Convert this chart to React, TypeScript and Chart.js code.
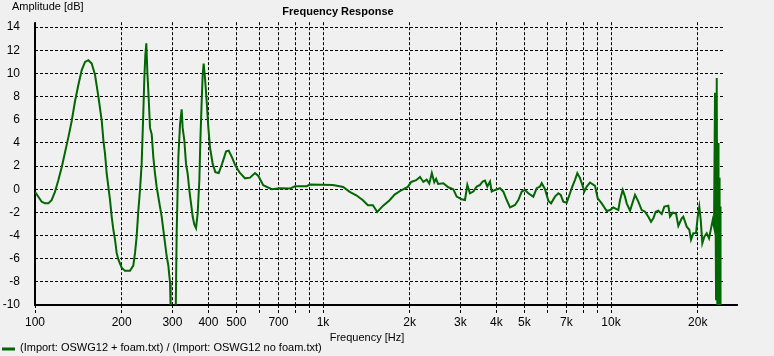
import React, { useEffect, useRef } from 'react';
import { Chart, registerables } from 'chart.js';

Chart.register(...registerables);

const chartTitle = 'Frequency Response';
const xAxisTitle = 'Frequency [Hz]';
const yAxisTitle = 'Amplitude [dB]';
const seriesLabel = '(Import: OSWG12 + foam.txt) / (Import: OSWG12 no foam.txt)';

const freqHz = [
  100, 102.7, 105.5, 108.3, 111.2, 114.2, 117.3, 120.5, 123.8, 127.1,
  130.5, 134.1, 137.7, 141.4, 145.3, 149.2, 153.2, 157.4, 161.6, 166.0,
  170.5, 172.8, 175.1, 177.4, 179.8, 182.2, 184.6, 187.1, 189.6, 192.1,
  194.7, 199.9, 205.3, 213.7, 219.4, 222.5, 225.4, 228.5, 231.5, 234.6,
  237.8, 239.7, 241.6, 243.5, 245.5, 248.1, 250.8, 254.2, 257.6, 261.0,
  264.5, 268.0, 271.6, 275.3, 279.0, 282.7, 286.5, 290.4, 294.3, 295.9,
  300.6, 307.9, 310.4, 314.6, 318.8, 323.0, 325.6, 330.0, 334.5, 338.9,
  343.5, 348.1, 352.7, 357.5, 362.3, 367.1, 372.1, 375.1, 379.1, 382.1,
  385.1, 389.3, 394.5, 399.9, 405.2, 414.0, 422.9, 434.4, 446.2, 460.7,
  470.6, 483.1, 496.2, 512.3, 536.1, 557.9, 580.7, 596.4, 620, 664,
  710, 768, 799, 877, 900, 1083, 1175, 1238, 1305, 1376,
  1432, 1490, 1543, 1614, 1703, 1773, 1869, 1970, 2024, 2106,
  2172, 2230, 2291, 2339, 2387, 2434, 2470, 2509, 2617, 2723,
  2834, 2912, 3030, 3112, 3170, 3238, 3325, 3417, 3509, 3585,
  3651, 3719, 3801, 3853, 3956, 4118, 4227, 4344, 4461, 4642,
  4766, 4897, 5028, 5162, 5373, 5521, 5668, 5746, 5900, 6058,
  6190, 6391, 6561, 6688, 6829, 7017, 7204, 7338, 7499, 7638,
  7805, 7950, 8078, 8234, 8455, 8799, 8990, 9283, 9663, 9920,
  10186, 10601, 10746, 10980, 11184, 11336, 11641, 11858, 12115, 12440,
  12783, 13125, 13475, 13770, 14026, 14297, 14597, 14997, 15315, 15812,
  16029, 16376, 16816, 17128, 17600, 17824, 18315, 18702, 18958, 19311,
  19731, 19999, 20258, 20488, 20749, 21086, 21493, 21893, 22193, 22549,
  22785, 22969, 23155, 23284, 23400, 23530, 23620, 23720, 23820, 23910,
  24000,
];

const amplitudeDb = [
  -0.23, -0.65, -1.08, -1.22, -1.22, -0.94, -0.23, 0.77, 1.9, 3.18,
  4.46, 5.9, 7.6, 9.0, 10.3, 11.0, 11.15, 10.86, 9.87, 8.0,
  5.9, 4.2, 3.04, 1.34, 0.2, -0.94, -2.36, -3.5, -4.35, -5.5,
  -6.06, -6.77, -7.05, -7.05, -6.6, -5.5, -4.07, -1.8, -0.09, 2.19,
  6.74, 9.6, 11.6, 12.6, 10.15, 7.9, 5.3, 4.75, 2.76, 1.34,
  0.2, -0.65, -1.5, -2.36, -3.5, -4.63, -5.77, -6.6, -8.05, -10.5,
  -14, -11, -3.78, 2.76, 5.6, 6.9, 5.3, 4.2, 2.19, 1.34,
  -0.09, -1.22, -2.36, -3.07, -3.36, -2.08, 0.77, 4.2, 7.6, 9.87,
  10.86, 9.6, 7.6, 5.3, 3.6, 2.19, 1.48, 1.4, 2.19, 3.27,
  3.33, 2.76, 2.05, 1.48, 0.94, 1.0, 1.4, 1.15, 0.35, 0.0,
  0.09, 0.06, 0.26, 0.26, 0.4, 0.37, 0.2, -0.23, -0.52, -0.95,
  -1.38, -1.38, -1.96, -1.44, -0.95, -0.46, -0.09, 0.2, 0.63, 0.78,
  1.06, 0.63, 0.83, 0.49, 1.4, 0.6, 0.9, 0.46, 0.52, 0.17,
  0.0, -0.64, -0.87, -0.93, 0.38, -0.35, -0.2, 0.23, 0.38, 0.67,
  0.75, 0.23, 0.67, -0.2, -0.06, 0.09, -0.2, -0.93, -1.57, -1.36,
  -0.93, -0.2, -0.06, -0.35, -0.64, 0.09, 0.23, 0.52, 0.0, -1.0,
  -1.22, -0.64, -0.35, -0.49, -1.07, -1.16, -0.35, 0.23, 0.81, 1.39,
  0.96, 0.38, -0.2, 0.23, 0.58, 0.29, -0.78, -1.22, -1.88, -1.8,
  -1.57, -1.8, -0.93, -0.06, -0.64, -1.22, -1.86, -1.22, -0.49, -1.07,
  -1.8, -1.94, -2.38, -2.81, -2.52, -1.94, -1.86, -2.14, -1.5, -1.43,
  -2.37, -2.03, -2.09, -3.17, -2.51, -2.37, -3.23, -3.5, -4.37, -3.8,
  -3.8, -2.37, -1.51, -2.66, -4.66, -4.09, -3.8, -4.23, -3.51, -2.66,
  -3.23, 8.34, -9.5, 9.6, -10.5, 4.0, -10.5, 1.0, -10.5, -1.5,
  -10.5,
];

const xGridValues = [
  100, 200, 300, 400, 500, 600, 700, 800, 900,
  1000, 2000, 3000, 4000, 5000, 6000, 7000, 8000, 9000,
  10000, 20000,
];
const xLabelValues = [100, 200, 300, 400, 500, 700, 1000, 2000, 3000, 4000, 5000, 7000, 10000, 20000];
const xLabelTexts = ['100', '200', '300', '400', '500', '700', '1k', '2k', '3k', '4k', '5k', '7k', '10k', '20k'];
const yTickValues = [-10, -8, -6, -4, -2, 0, 2, 4, 6, 8, 10, 12, 14];

const X_MIN = 100;
const X_MAX = 24480;
const Y_MIN = -10;
const Y_MAX = 14.43;

const LINE_COLOR = '#006600';
const FONT = '"Liberation Sans", Arial, sans-serif';

export default function App() {
  const canvasRef = useRef<HTMLCanvasElement | null>(null);

  useEffect(() => {
    const canvas = canvasRef.current;
    if (!canvas) return;

    const decor = {
      id: 'decor',
      beforeDatasetsDraw(chart: any) {
        const { ctx, chartArea } = chart;
        ctx.save();
        ctx.strokeStyle = '#000';
        ctx.setLineDash([]);
        ctx.lineWidth = 2;
        ctx.beginPath();
        ctx.moveTo(chartArea.left, chartArea.top);
        ctx.lineTo(chartArea.left, chartArea.bottom + 1);
        ctx.stroke();
        ctx.beginPath();
        ctx.moveTo(chartArea.left - 1, chartArea.bottom);
        ctx.lineTo(chartArea.right + 15, chartArea.bottom);
        ctx.stroke();
        ctx.restore();
      },
      afterDraw(chart: any) {
        const { ctx } = chart;
        ctx.save();
        ctx.fillStyle = '#000';
        ctx.textBaseline = 'middle';
        ctx.font = `bold 11px ${FONT}`;
        ctx.textAlign = 'center';
        ctx.fillText(chartTitle, 338, 12);
        ctx.font = `11px ${FONT}`;
        ctx.textAlign = 'left';
        ctx.fillText(yAxisTitle, 12, 7);
        ctx.textAlign = 'center';
        ctx.fillText(xAxisTitle, 367, 338);
        ctx.textAlign = 'left';
        ctx.fillText(seriesLabel, 20, 348);
        ctx.strokeStyle = LINE_COLOR;
        ctx.lineWidth = 3;
        ctx.beginPath();
        ctx.moveTo(2, 349);
        ctx.lineTo(15, 349);
        ctx.stroke();
        ctx.restore();
      },
    };

    const chart = new Chart(canvas, {
      type: 'line',
      data: {
        datasets: [
          {
            label: seriesLabel,
            data: freqHz.map((f, i) => ({ x: f, y: amplitudeDb[i] })),
            borderColor: LINE_COLOR,
            backgroundColor: LINE_COLOR,
            borderWidth: 2,
            pointRadius: 0,
            tension: 0,
            fill: false,
          },
        ],
      },
      options: {
        animation: false,
        responsive: false,
        maintainAspectRatio: false,
        events: [],
        layout: { padding: { top: 20, right: 51, left: 0, bottom: 0 } },
        plugins: {
          legend: { display: false },
          title: { display: false },
          tooltip: { enabled: false },
        },
        scales: {
          x: {
            type: 'logarithmic',
            min: X_MIN,
            max: X_MAX,
            afterBuildTicks: (scale: any) => {
              scale.ticks = xGridValues.map((v) => ({ value: v }));
            },
            afterFit: (scale: any) => {
              scale.height = 51;
            },
            border: { display: false, dash: [3, 2] },
            grid: {
              color: '#000',
              lineWidth: 1,
              drawTicks: true,
              tickLength: 8,
              tickColor: '#000',
              tickBorderDash: [3, 2],
            },
            ticks: {
              autoSkip: false,
              maxRotation: 0,
              minRotation: 0,
              padding: 2,
              color: '#000',
              font: { family: FONT, size: 12 },
              callback: (_v: any, i: number, ticks: any[]) => {
                const idx = xLabelValues.indexOf(ticks[i].value);
                return idx >= 0 ? xLabelTexts[idx] : '';
              },
            },
          },
          y: {
            type: 'linear',
            min: Y_MIN,
            max: Y_MAX,
            afterBuildTicks: (scale: any) => {
              scale.ticks = yTickValues.map((v) => ({ value: v }));
            },
            afterFit: (scale: any) => {
              scale.width = 35;
            },
            border: { display: false, dash: [3, 2] },
            grid: {
              color: '#000',
              lineWidth: 1,
              drawTicks: false,
            },
            ticks: {
              padding: 15,
              color: '#000',
              font: { family: FONT, size: 12 },
            },
          },
        },
      },
      plugins: [decor],
    } as any);

    return () => chart.destroy();
  }, []);

  return (
    <div
      style={{
        position: 'fixed',
        left: 0,
        top: 0,
        width: 774,
        height: 356,
        background: '#F0F0F0',
      }}
    >
      <canvas ref={canvasRef} width={774} height={356} style={{ display: 'block' }} />
    </div>
  );
}
